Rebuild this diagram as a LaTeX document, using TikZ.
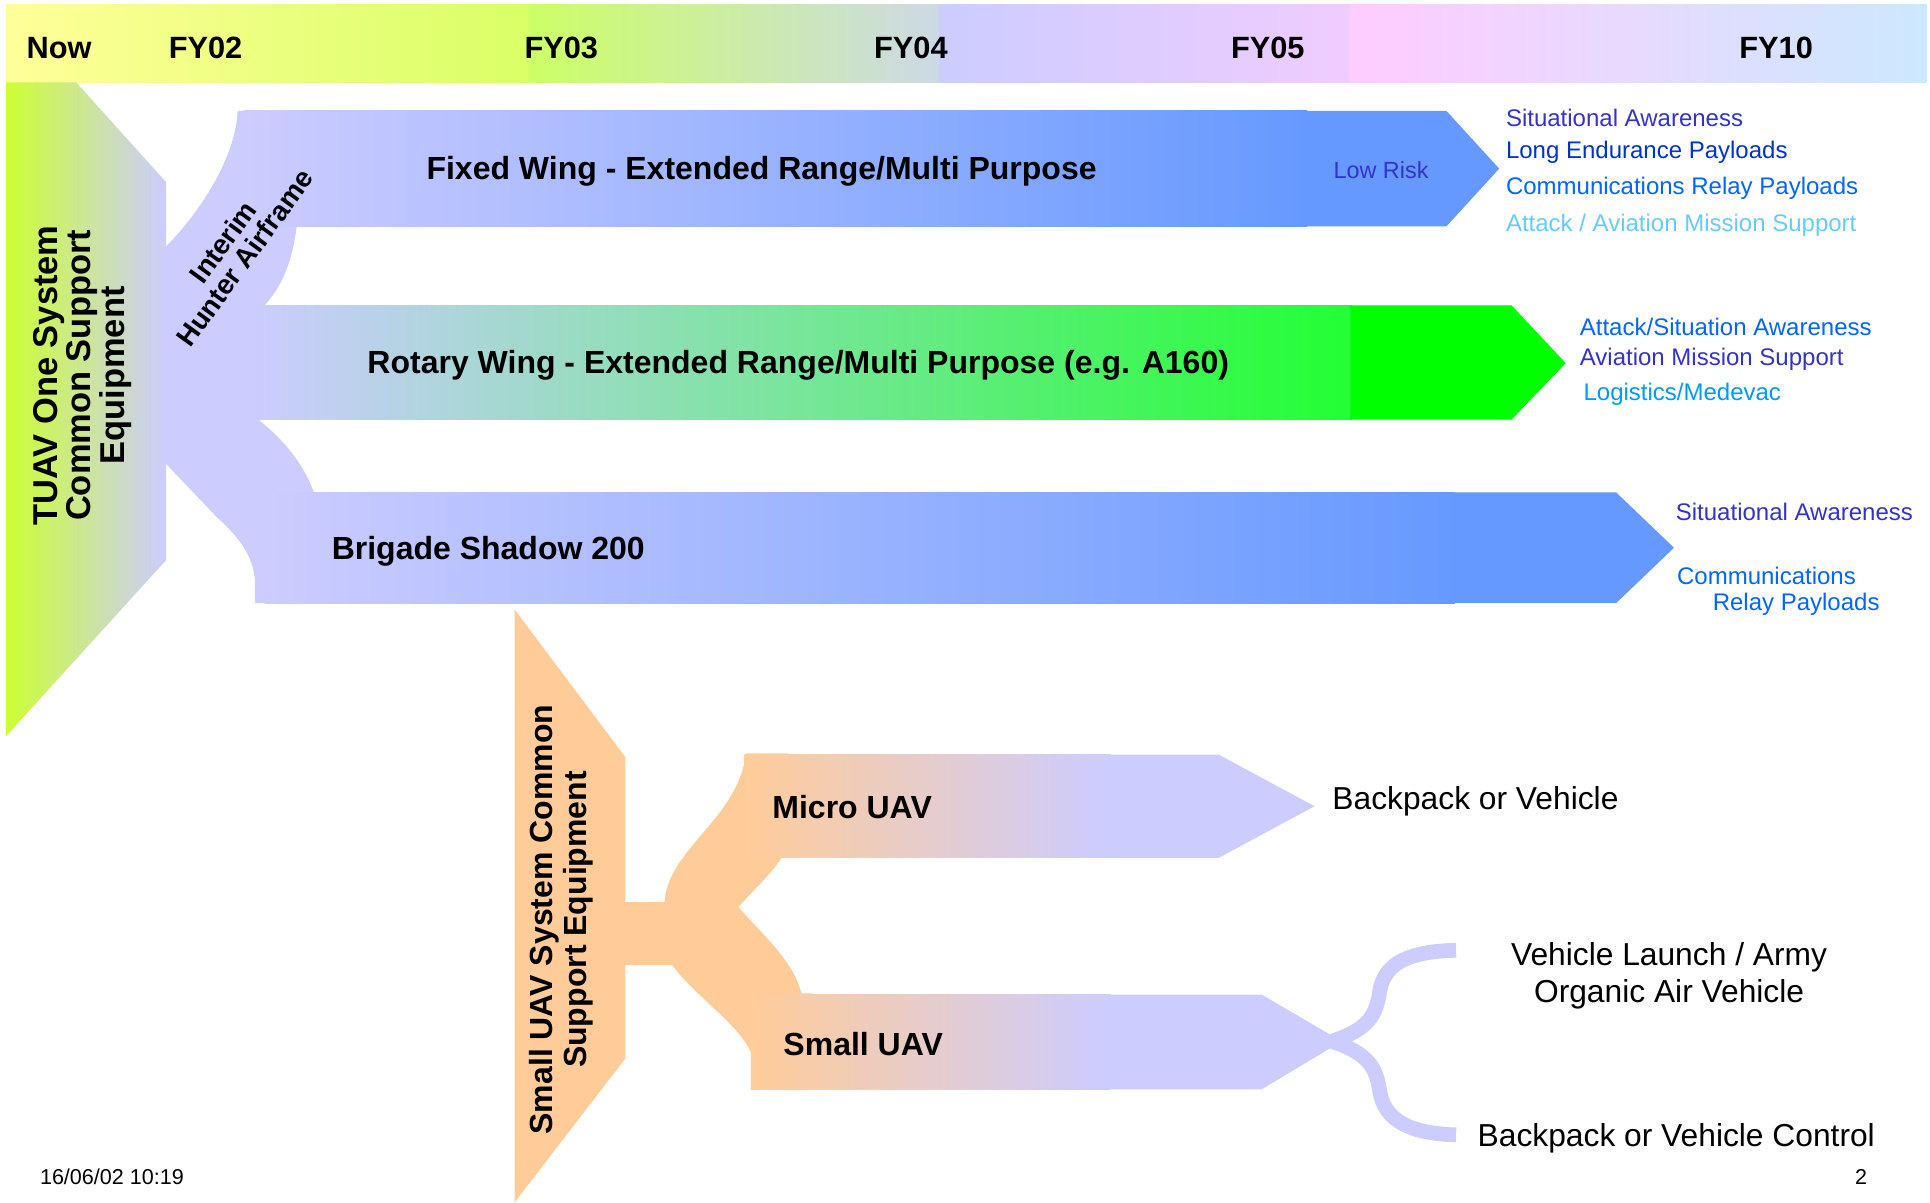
\documentclass[tikz,border=0pt]{standalone}
\usepackage{fontspec}
\setmainfont{Liberation Sans}

\definecolor{lav}{HTML}{CCCCFF}
\definecolor{blu}{HTML}{6699FF}
\definecolor{grn}{HTML}{00FF00}
\definecolor{grnb}{HTML}{22FF33}
\definecolor{peach}{HTML}{FFCC99}
\definecolor{lime}{HTML}{CCFF33}
\definecolor{bara}{HTML}{FFFF99}
\definecolor{barb}{HTML}{D9FF66}
\definecolor{barc}{HTML}{CCFF66}
\definecolor{bard}{HTML}{CCD9E6}
\definecolor{bare}{HTML}{F0CCFF}
\definecolor{barf}{HTML}{FFCCFF}
\definecolor{barg}{HTML}{CCE8FF}
\definecolor{tvio}{HTML}{3333CC}
\definecolor{tdark}{HTML}{0033CC}
\definecolor{tblue}{HTML}{0066FF}
\definecolor{tsky}{HTML}{66CCFF}
\definecolor{tmid}{HTML}{0099FF}

\begin{document}
\begin{tikzpicture}[x=1pt,y=-1pt,
  yr/.style={font=\fontsize{25}{27}\selectfont\bfseries},
  ttl/.style={anchor=west,font=\fontsize{26}{28}\selectfont\bfseries},
  vert/.style={rotate=90,align=center,font=\fontsize{28}{27}\selectfont\bfseries},
  sm/.style={anchor=west,font=\fontsize{19.5}{22}\selectfont},
  big/.style={font=\fontsize{25.8}{30}\selectfont}]
\useasboundingbox (0,0) rectangle (1568,977);

% time bar
\shade[left color=bara,right color=barb] (5,4) rectangle (431,67);
\shade[left color=barc,right color=bard] (430,4) rectangle (764,67);
\shade[left color=lav,right color=bare] (763,4) rectangle (1098,67);
\shade[left color=barf,right color=barg] (1097,4) rectangle (1565,67);
\node[yr] (now) at (48,39) {Now};
\node[yr] (fy2) at (167,39) {FY02};
\node[yr] (fy3) at (456,39) {FY03};
\node[yr] (fy4) at (740,39) {FY04};
\node[yr] (fy5) at (1030,39) {FY05};
\node[yr] (fy10) at (1443,39) {FY10};

% TUAV
\shade[left color=lime,right color=lav] (5,67) -- (62,67) -- (135,148) -- (135,455) -- (5,598) -- cycle;
\fill[lav] (135,200) .. controls (165,170) and (192,125) .. (193,90) -- (260,90) -- (260,184) -- (241,184)
  .. controls (238,210) and (230,232) .. (215,248) -- (260,248) -- (260,341) -- (210,341)
  .. controls (228,355) and (246,375) .. (255,400) -- (280,400) -- (280,490) -- (207,490) -- (207,470)
  .. controls (205,452) and (196,438) .. (176,420) -- (135,377) -- cycle;
\shade[left color=lav,right color=blu] (198,90) rectangle (1062,184);
\fill[blu] (1060,90) -- (1175,90) -- (1218,137) -- (1175,184) -- (1060,184) -- cycle;
\shade[left color=lav,right color=grnb] (205,248) rectangle (1099,341);
\fill[grn] (1097,248) -- (1228,248) -- (1272,295) -- (1228,341) -- (1097,341) -- cycle;
\shade[left color=lav,right color=blu] (215,400) rectangle (1182,490);
\fill[blu] (1180,400) -- (1313,400) -- (1360,445) -- (1313,490) -- (1180,490) -- cycle;

\node[vert] (tuav) at (67,305) {TUAV One System\\Common Support\\Equipment};
\node[rotate=54,align=center,font=\fontsize{22.5}{22}\selectfont\bfseries] (hunt) at (190,203) {Interim\\Hunter Airframe};
\node[ttl] (fw) at (343,139) {Fixed Wing - Extended Range/Multi Purpose};
\node[font=\fontsize{19}{22}\selectfont,text=tvio] (risk) at (1122,138) {Low Risk};
\node[ttl] (rw) at (295,297) {Rotary Wing - Extended Range/Multi Purpose (e.g. A160)};
\node[ttl] (bs) at (266,448) {Brigade Shadow 200};

\node[sm,text=tvio] (f1) at (1220,96) {Situational Awareness};
\node[sm,text=tdark] (f2) at (1220,124) {Long Endurance Payloads};
\node[sm,text=tblue] (f3) at (1220,153) {Communications Relay Payloads};
\node[sm,text=tsky] (f4) at (1220,183) {Attack / Aviation Mission Support};
\node[sm,text=tblue] (r1) at (1280,266) {Attack/Situation Awareness};
\node[sm,text=tvio] (r2) at (1280,292) {Aviation Mission Support};
\node[sm,text=tmid] (r3) at (1283,320) {Logistics/Medevac};
\node[sm,text=tvio] (b1) at (1358,416) {Situational Awareness};
\node[sm,text=tblue] (b2) at (1359,468) {Communications};
\node[sm,text=tblue] (b3) at (1388,491) {Relay Payloads};

% small UAV
\fill[peach] (418,495) -- (508,615) -- (508,860) -- (418,977) -- cycle;
\fill[peach] (500,733) -- (540,733) .. controls (542,690) and (600,665) .. (606,612) -- (640,612) -- (640,697) -- (635,697)
  .. controls (625,712) and (610,725) .. (600,737) .. controls (615,755) and (645,780) .. (651,807) -- (660,807)
  -- (660,885) -- (612,885) -- (612,860) .. controls (605,835) and (565,810) .. (546,784) -- (500,784) -- cycle;
\shade[left color=peach,right color=lav] (605,613) rectangle (902,697);
\fill[lav] (900,613) -- (990,613) -- (1068,655) -- (990,697) -- (900,697) -- cycle;
\shade[left color=peach,right color=lav] (610,808) rectangle (902,885);
\fill[lav] (900,808) -- (1025,808) -- (1090,846) -- (1025,885) -- (900,885) -- cycle;

\node[vert,font=\fontsize{26}{27}\selectfont\bfseries] (suav) at (456,747) {Small UAV System Common\\Support Equipment};
\node[ttl] (mi) at (624,656) {Micro UAV};
\node[ttl] (sa) at (633,848) {Small UAV};
\node[big,anchor=west] (bp) at (1079,651) {Backpack or Vehicle};
\node[big,align=center] (vl) at (1356,793) {Vehicle Launch / Army\\Organic Air Vehicle};
\node[big,anchor=west] (bc) at (1197,925) {Backpack or Vehicle Control};

\coordinate (st) at (1082,846);
\coordinate (e1) at (1183,772);
\coordinate (e2) at (1183,922);
\draw[lav,line width=12] (st) .. controls (1112,836) and (1118,825) .. (1121,805)
  .. controls (1125,782) and (1145,773) .. (e1);
\draw[lav,line width=12] (st) .. controls (1112,856) and (1118,867) .. (1121,887)
  .. controls (1125,910) and (1145,921) .. (e2);

\node[anchor=west,font=\fontsize{17.5}{20}\selectfont] (date) at (29,956) {16/06/02 10:19};
\node[font=\fontsize{17.5}{20}\selectfont] (pg) at (1512,956) {2};
\end{tikzpicture}
\end{document}
